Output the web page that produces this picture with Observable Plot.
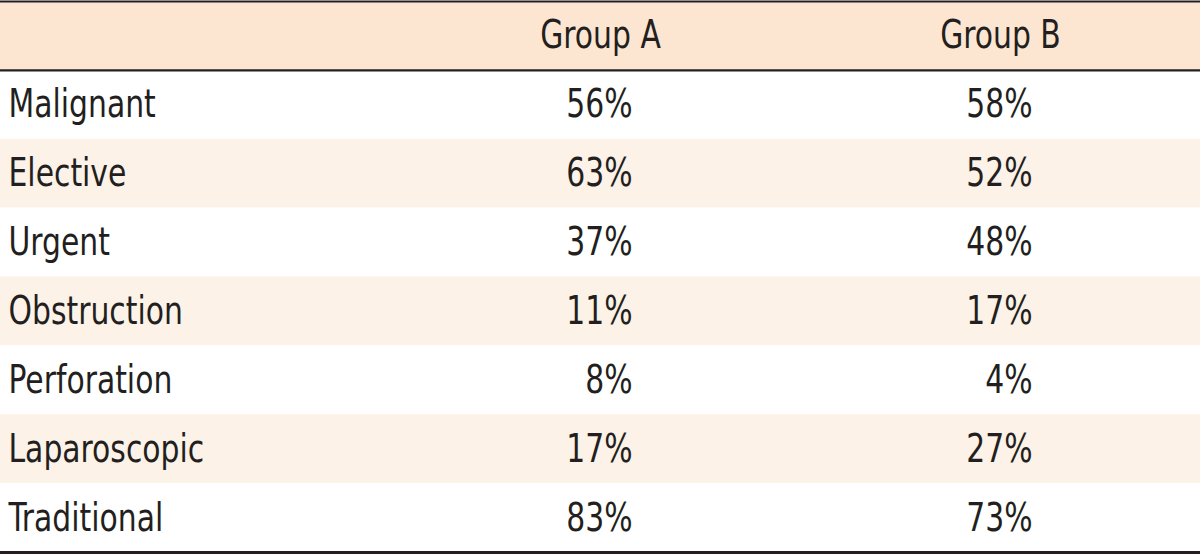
<!DOCTYPE html>
<html>
<head>
<meta charset="utf-8">
<script src="https://cdn.jsdelivr.net/npm/d3@7"></script>
<script src="https://cdn.jsdelivr.net/npm/@observablehq/plot@0.6"></script>
<style>
  html, body { margin: 0; padding: 0; background: #ffffff; }
  #chart svg { display: block; }
</style>
</head>
<body>
<div id="chart"></div>
<script>
// ---- data ----
const categories = ["Malignant", "Elective", "Urgent", "Obstruction", "Perforation", "Laparoscopic", "Traditional"];
const groupA = [56, 63, 37, 11, 8, 17, 83];
const groupB = [58, 52, 48, 17, 4, 27, 73];
const headers = ["Group A", "Group B"];

// ---- layout ----
const W = 1200, H = 555;
const font = "'DejaVu Sans Condensed', 'Liberation Sans Narrow', sans-serif";
const ink = "#231f20";
const headerFill = "#fde6d1";
const stripeFill = "#fdf2e7";
const labelX = 8;
const colCenter = [600, 1000];
const colRight = [632, 1032];
const squeeze = 0.85;

const rows = categories.map((c, i) => ({cat: c, i: i + 1, a: groupA[i], b: groupB[i]}));
const bands = [{i: 0, fill: headerFill}, ...rows.map(r => ({i: r.i, fill: r.i % 2 === 0 ? stripeFill : "#ffffff"}))];
const headerCells = headers.map((h, k) => ({h, x: colCenter[k]}));
const valueCells = rows.flatMap(r => [
  {v: r.a, x: colRight[0], i: r.i},
  {v: r.b, x: colRight[1], i: r.i}
]);

const plot = Plot.plot({
  width: W,
  height: H,
  margin: 0,
  x: {type: "linear", domain: [0, W], range: [0, W], axis: null},
  y: {type: "linear", domain: [0, 8], range: [1, 552], axis: null},
  style: {fontFamily: font, background: "#ffffff"},
  marks: [
    Plot.rect(bands, {x1: 0, x2: W, y1: d => d.i, y2: d => d.i + 1, fill: d => d.fill}),
    Plot.ruleY([0], {stroke: ink, strokeWidth: 2.2}),
    Plot.ruleY([1], {stroke: ink, strokeWidth: 2.4}),
    Plot.ruleY([8], {stroke: ink, strokeWidth: 3}),
    Plot.text(headerCells, {x: "x", y: 0.5, text: "h", textAnchor: "middle", fontSize: 39, fill: ink, fontFamily: font}),
    Plot.text(rows, {x: labelX, y: d => d.i + 0.5, text: "cat", textAnchor: "start", fontSize: 39, fill: ink, fontFamily: font}),
    Plot.text(valueCells, {x: "x", y: d => d.i + 0.5, text: d => d.v + "%", textAnchor: "end", fontSize: 39, fill: ink, fontFamily: font})
  ]
});
document.getElementById("chart").appendChild(plot);
// condense glyphs horizontally (the reference uses a condensed face)
plot.querySelectorAll("text").forEach(t => {
  const w = t.getComputedTextLength();
  if (w > 0) {
    t.setAttribute("textLength", (w * squeeze).toFixed(2));
    t.setAttribute("lengthAdjust", "spacingAndGlyphs");
  }
});
</script>
</body>
</html>
